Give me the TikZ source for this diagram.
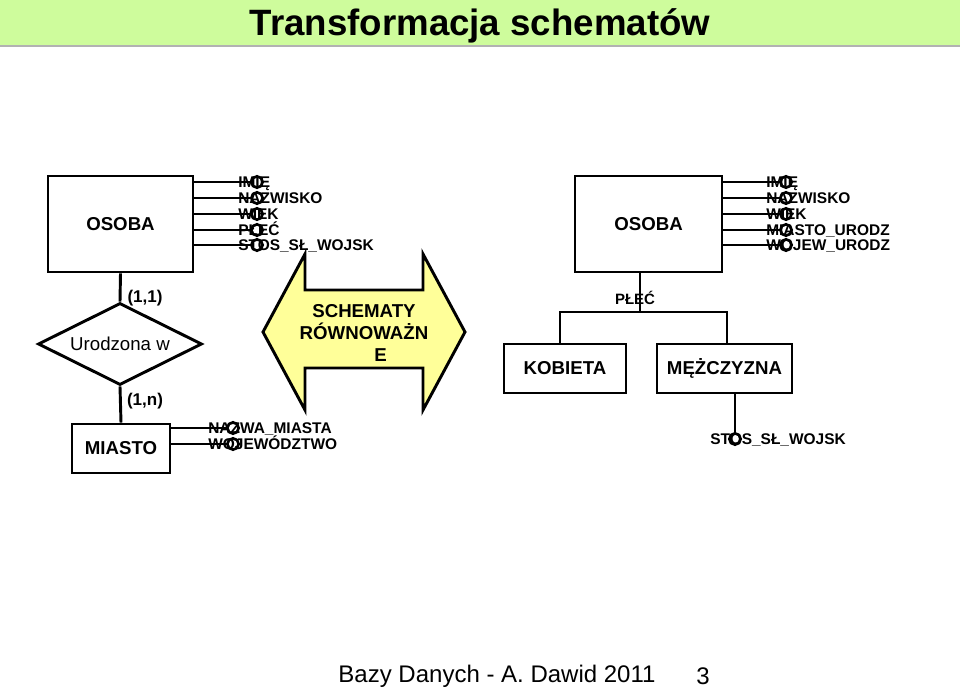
\documentclass[tikz,border=0pt]{standalone}
\usepackage{fontspec}
\setmainfont{Liberation Sans}
\usetikzlibrary{shapes.geometric}
\definecolor{titlegreen}{RGB}{206,252,156}
\definecolor{arrowyellow}{RGB}{255,255,153}
\begin{document}
\begin{tikzpicture}[x=0.75pt,y=-0.75pt,
  ent/.style={draw,line width=2.2pt,inner sep=0pt,font=\fontsize{14}{16}\selectfont\bfseries},
  conn/.style={line width=2.2pt},
  attc/.style={circle,draw,line width=2pt,minimum size=8.5pt,inner sep=0pt},
  attr/.style={anchor=base west,inner sep=0pt,font=\fontsize{11.6}{13}\selectfont\bfseries},
  card/.style={inner sep=0pt,font=\fontsize{12.75}{14}\selectfont\bfseries}]
\useasboundingbox (0,0) rectangle (960,691);
% title bar
\fill[titlegreen] (0,0) rectangle (960,46);
\draw[gray!60,line width=1.5pt] (0,46.5) -- (960,46.5);
\node[font=\fontsize{27.5}{30}\selectfont\bfseries] (title) at (480,26) {Transformacja schematów};

% left schema
\node[ent,minimum width=108.75pt,minimum height=72pt] (osoba1) at (120.5,224) {OSOBA};
\foreach \i/\t/\yy in {1/IMIĘ/182,2/NAZWISKO/198,3/WIEK/214,4/PŁEĆ/230,5/STOS\_SŁ\_WOJSK/245}{
  \node[attr] (lt\i) at (238,\yy+5.5) {\t};
  \node[attc] (lc\i) at (257,\yy) {};
  \draw[conn] (osoba1.east |- lc\i) -- (lc\i.west);
}
\node[diamond,draw,line width=2.2pt,inner sep=0pt,shape aspect=2,minimum width=123pt,minimum height=61.5pt,
      font=\fontsize{14}{16}\selectfont] (rel) at (120,344) {Urodzona w};
\draw[conn] (osoba1.south) -- (rel.north);
\node[card] (c11) at (145,298) {(1,1)};
\node[card] (c1n) at (145,401) {(1,n)};
\node[ent,minimum width=73.5pt,minimum height=36.75pt] (miasto) at (121,448.5) {MIASTO};
\draw[conn] (rel.south) -- (miasto.north);
\foreach \i/\t/\yy in {1/NAZWA\_MIASTA/428,2/WOJEWÓDZTWO/444}{
  \node[attr] (mt\i) at (208,\yy+5.5) {\t};
  \node[attc] (mc\i) at (233,\yy) {};
  \draw[conn] (miasto.east |- mc\i) -- (mc\i.west);
}

% double arrow
\draw[fill=arrowyellow,line width=2.2pt,line join=miter]
  (305,254) -- (305,290) -- (423,290) -- (423,254) -- (465,332) -- (423,410)
  -- (423,368) -- (305,368) -- (305,410) -- (263,332) -- cycle;
\node[align=center,inner sep=0pt,font=\fontsize{14}{16.5}\selectfont\bfseries] (eq) at (364,333)
  {SCHEMATY\\RÓWNOWAŻN\\\hspace*{25pt}E};

% right schema
\node[ent,minimum width=110.25pt,minimum height=72pt] (osoba2) at (648.5,224) {OSOBA};
\foreach \i/\t/\yy in {1/IMIĘ/182,2/NAZWISKO/198,3/WIEK/214,4/MIASTO\_URODZ/230,5/WOJEW\_URODZ/245}{
  \node[attr] (rt\i) at (766,\yy+5.5) {\t};
  \node[attc] (rc\i) at (786,\yy) {};
  \draw[conn] (osoba2.east |- rc\i) -- (rc\i.west);
}
\node[ent,minimum width=91.5pt,minimum height=36.75pt] (kobieta) at (565,368.5) {KOBIETA};
\node[ent,minimum width=101.25pt,minimum height=36.75pt] (mezczyzna) at (724.5,368.5) {MĘŻCZYZNA};
\node[inner sep=0pt,font=\fontsize{11.25}{13}\selectfont\bfseries] (plec) at (635,298) {PŁEĆ};
\coordinate (pl) at (640,312);
\draw[conn] (osoba2.south -| pl) -- (pl);
\draw[conn] ([xshift=-3.75pt]kobieta.north) |- (pl) -| ([xshift=1.875pt]mezczyzna.north);
\node[attr] (st) at (710,444.5) {STOS\_SŁ\_WOJSK};
\node[attc] (sc) at (735,439) {};
\draw[conn] (mezczyzna.south -| sc) -- (sc.north);

% footer
\node[font=\fontsize{18}{20}\selectfont] (foot) at (497,676) {Bazy Danych - A. Dawid 2011};
\node[font=\fontsize{18}{20}\selectfont] (page) at (703,676) {3};
\end{tikzpicture}
\end{document}
